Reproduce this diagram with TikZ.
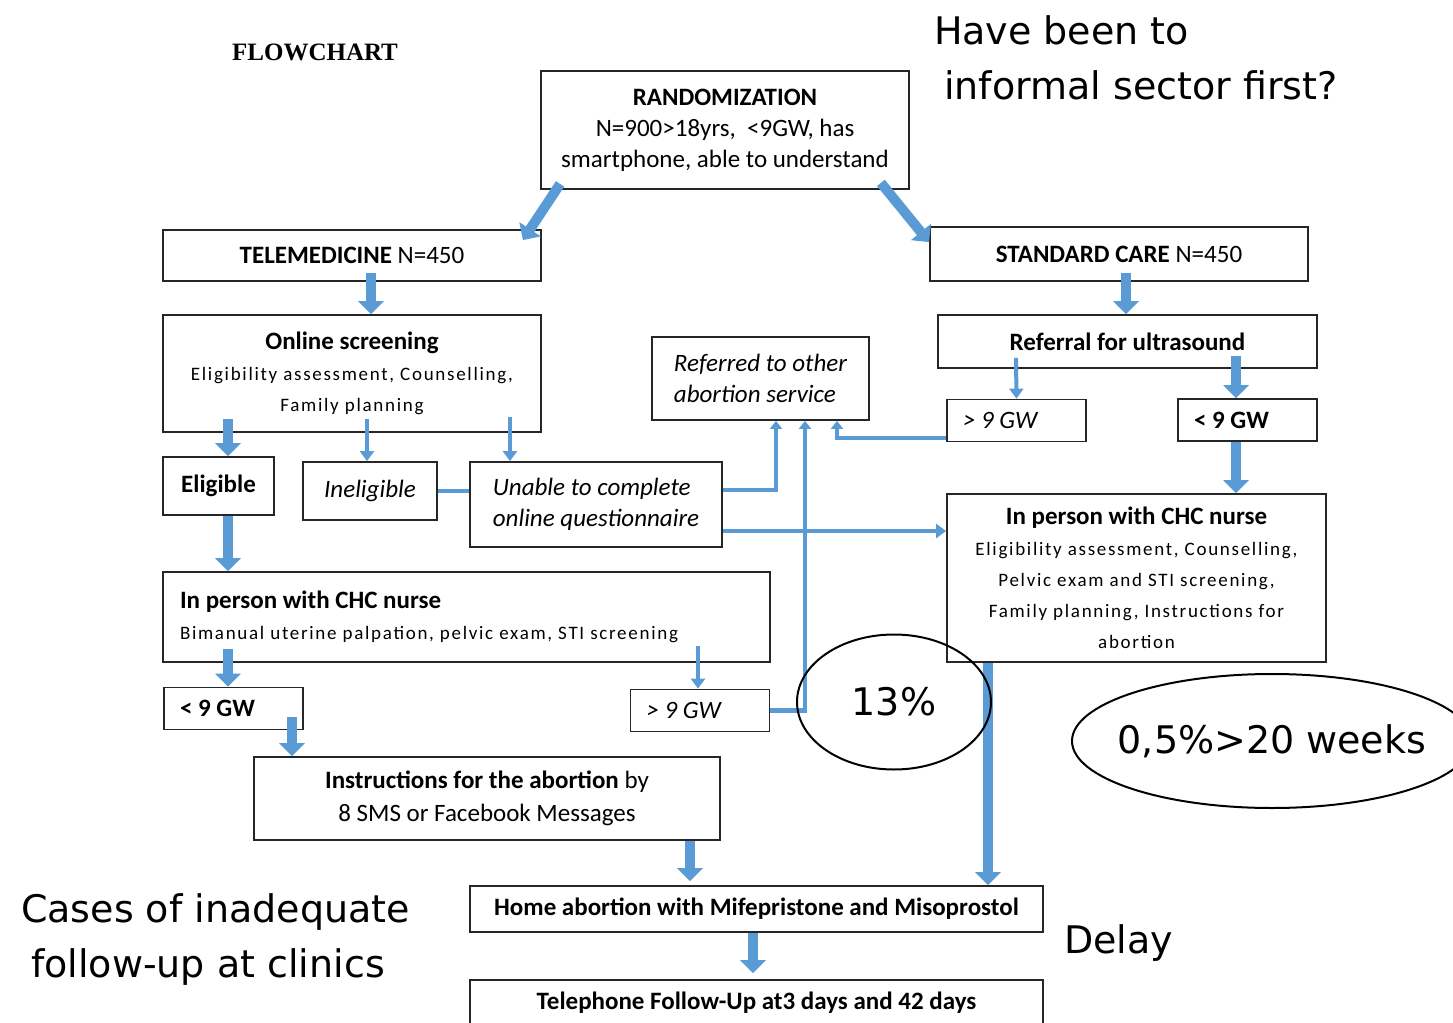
\documentclass[tikz,border=0pt]{standalone}
\usepackage{fontspec}
\setmainfont{Carlito}
\newfontfamily\spacedfont{Carlito}[LetterSpace=9]
\newfontfamily\handfont{DejaVu Sans}
\newfontfamily\titlefont{Liberation Serif}
\usetikzlibrary{arrows.meta,shapes.geometric}
\definecolor{arrowblue}{HTML}{5B9BD5}
\newcommand{\bodytext}[1]{{\spacedfont\fontsize{9.5}{15.5}\selectfont #1}}
\tikzstyle{title-node}=[font=\titlefont\bfseries\fontsize{12.5}{15}\selectfont]
\tikzstyle{box-node}=[draw=black!85,line width=0.9pt,fill=white,inner sep=2pt,align=center,font=\fontsize{12.5}{15.5}\selectfont]
\tikzstyle{gw-node}=[box-node,align=flush left,text width=53.5pt,inner xsep=8pt,minimum height=21pt]
\tikzstyle{hand-node}=[font=\handfont\fontsize{19}{24}\selectfont]
\tikzstyle{ring-node}=[draw,ellipse,line width=1pt,inner sep=0pt]
\tikzstyle{big-arrow}=[draw=arrowblue,line width=5pt,-{Triangle[length=6.5pt,width=12.5pt]}]
\tikzstyle{thin-arrow}=[draw=arrowblue,line width=2pt,-{Triangle[length=5pt,width=7pt]}]
\tikzstyle{link-line}=[draw=arrowblue,line width=2.2pt]
\tikzstyle{link-arrow}=[link-line,-{Triangle[length=4pt,width=6pt]}]

\begin{document}
\begin{tikzpicture}[x=0.5pt,y=-0.5pt]
    \useasboundingbox (0,0) rectangle (1453,1023);

    \begin{scope}
        \node (title)[title-node] at (315,52) {FLOWCHART};
        \node (rand)[box-node,minimum width=184pt,minimum height=59pt] at (725,130) {\textbf{RANDOMIZATION}\\N=900>18yrs,~ <9GW, has\\smartphone, able to understand};
        \node (tele)[box-node,minimum width=189pt,minimum height=25.5pt] at (352,255.5) {\textbf{TELEMEDICINE} N=450};
        \node (std)[box-node,minimum width=189pt,minimum height=27pt] at (1119,254) {\textbf{STANDARD CARE} N=450};
        \node (online)[box-node,minimum width=189pt,minimum height=58.5pt] at (352,373.5) {\textbf{Online screening}\\\bodytext{Eligibility assessment, Counselling,}\\\bodytext{Family planning}};
        \node (eligible)[box-node,minimum width=55.5pt,minimum height=29pt] at (218.5,486) {\textbf{Eligible}};
        \node (inelig)[box-node,minimum width=67pt,minimum height=29pt] at (370,491) {\textit{Ineligible}};
        \node (unable)[box-node,align=left,minimum width=126pt,minimum height=42.5pt] at (596,504.5) {\textit{Unable to complete}\\\textit{online questionnaire}};
        \node (referred)[box-node,align=left,minimum width=108.5pt,minimum height=41.5pt] at (760.5,378.5) {\textit{Referred to other}\\\textit{abortion service}};
        \node (referral)[box-node,minimum width=189.5pt,minimum height=26.5pt] at (1127.5,341.5) {\textbf{Referral for ultrasound}};
        \node (gt9r)[gw-node] at (1016.5,420.5) {\textit{> 9 GW}};
        \node (lt9r)[gw-node] at (1247.5,420) {\textbf{< 9 GW}};
        \node (chcR)[box-node,minimum width=189.5pt,minimum height=84pt] at (1136.5,578) {\textbf{In person with CHC nurse}\\\bodytext{Eligibility assessment, Counselling,}\\\bodytext{Pelvic exam and STI screening,}\\\bodytext{Family planning, Instructions for}\\\bodytext{abortion}};
        \node (chcL)[box-node,align=flush left,text width=286.5pt,inner xsep=8.5pt,minimum height=45pt] at (466.5,617) {\textbf{In person with CHC nurse}\\\bodytext{Bimanual uterine palpation, pelvic exam, STI screening}};
        \node (lt9L)[gw-node] at (233.5,708.5) {\textbf{< 9 GW}};
        \node (gt9M)[gw-node] at (700,710.5) {\textit{> 9 GW}};
        \node (instr)[box-node,minimum width=233pt,minimum height=41.5pt] at (487,798.5) {\textbf{Instructions for the abortion} by\\[1pt]8 SMS or Facebook Messages};
        \node (home)[box-node,minimum width=286.5pt,minimum height=23pt] at (756.5,909) {\textbf{Home abortion with Mifepristone and Misoprostol}};
        \node (tel)[box-node,minimum width=286.5pt,minimum height=23pt] at (756.5,1003) {\textbf{Telephone Follow-Up at3 days and 42 days}};
    \end{scope}

    % handwritten notes
    \node (q1)[hand-node,anchor=west] at (927,30) {Have been to};
    \node (q2)[hand-node,anchor=west] at (937,85) {informal sector first?};
    \node (c1)[hand-node,anchor=west] at (14,912) {Cases of inadequate};
    \node (c2)[hand-node,anchor=west] at (24,967) {follow-up at clinics};
    \node (delay)[hand-node,anchor=west] at (1057,943) {Delay};

    \begin{scope}[every edge/.style=big-arrow]
        \path ([xshift=10pt,yshift=3pt]rand.south west) edge ([xshift=-9.5pt,yshift=-5.5pt]tele.north east);
        \path ([xshift=-14.5pt,yshift=3.5pt]rand.south east) edge ([yshift=-8pt]std.north west);
        \path ([xshift=9.5pt,yshift=4.5pt]tele.south) edge ([xshift=9.5pt]online.north);
        \path ([xshift=3.5pt,yshift=4.5pt]std.south) edge ([xshift=-0.75pt]referral.north);
        \path ([xshift=54.25pt,yshift=6.5pt]referral.south) edge ([xshift=-5.75pt]lt9r.north);
        \path ([xshift=-5.75pt]lt9r.south) edge ([xshift=49.75pt]chcR.north);
        \path ([xshift=-62pt,yshift=7pt]online.south) edge ([xshift=4.75pt]eligible.north);
        \path ([xshift=4.75pt]eligible.south) edge ([xshift=-119.25pt]chcL.north);
        \path ([xshift=-119.25pt,yshift=7pt]chcL.south) edge ([xshift=-2.75pt]lt9L.north);
        \path ([xshift=29.25pt,yshift=6.5pt]lt9L.south) edge ([xshift=-97.5pt]instr.north);
        \path ([xshift=101.5pt]instr.south) edge ([xshift=-33.25pt,yshift=2pt]home.north);
        \path ([xshift=-74.25pt]chcR.south) edge ([xshift=115.75pt]home.north);
        \path ([xshift=-1.75pt]home.south) edge ([xshift=-1.75pt,yshift=3pt]tel.north);
    \end{scope}

    \begin{scope}[every edge/.style=thin-arrow]
        \path ([xshift=-55.75pt,yshift=5.5pt]referral.south) edge (gt9r.north);
        \path ([xshift=7.5pt,yshift=7pt]online.south) edge ([xshift=-1.5pt]inelig.north);
        \path ([xshift=79pt,yshift=8pt]online.south) edge ([xshift=-43pt]unable.north);
        \path ([xshift=115.75pt,yshift=8.5pt]chcL.south) edge ([xshift=-1pt]gt9M.north);
    \end{scope}

    % links towards the other services
    \draw[link-line] (inelig.east) -- (inelig.east -| unable.west);
    \draw[link-arrow] ([yshift=7.25pt]unable.east) -| ([xshift=7.75pt]referred.south);
    \draw[link-arrow] (gt9M.east) -| ([xshift=22.25pt]referred.south);
    \draw[link-arrow] ([yshift=-8.75pt]gt9r.west) -| ([xshift=38.25pt]referred.south);
    \draw[thin-arrow] ([yshift=-13.25pt]unable.east) -- ([yshift=-13.25pt]unable.east -| chcR.west);

    \node (pct)[ring-node,minimum width=97pt,minimum height=67.5pt,label={[hand-node]center:13\%}] at (894,702) {};
    \node (late)[ring-node,minimum width=200pt,minimum height=67pt,label={[hand-node]center:0,5\%>20 weeks}] at (1272,741) {};

\end{tikzpicture}
\end{document}
